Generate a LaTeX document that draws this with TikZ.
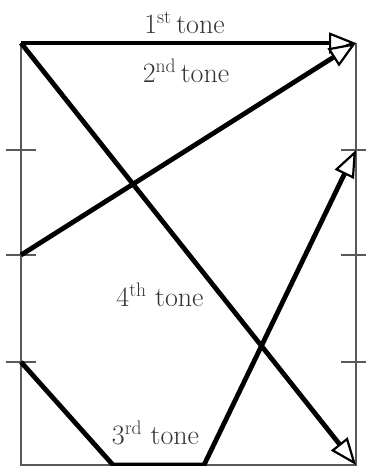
\documentclass[tikz,border=0pt]{standalone}
\usetikzlibrary{arrows.meta}
\begin{document}
\begin{tikzpicture}[x=1pt,y=-1pt,
  frame/.style={draw=black!65, line width=1.8pt},
  tone/.style={draw=black, line width=4.8pt, line join=miter},
  tonearrow/.style={tone, -{Triangle[open, length=27pt, width=21pt, line width=2.2pt, fill=white]}},
  lbl/.style={font=\fontsize{28}{32}\selectfont, text=black!80, inner sep=0pt, anchor=base}]
\useasboundingbox (0,0) rectangle (366,466);
% frame corners
\coordinate (TL) at (21,43);
\coordinate (TR) at (356,43);
\coordinate (BL) at (21,465);
\coordinate (BR) at (356,465);
\draw[frame] (TL) -- (BL) -- (BR) -- (TR);
% ticks
\foreach \y/\n in {150/a,255/b,362/c}{
  \coordinate (L\n1) at (6,\y); \coordinate (L\n2) at (36,\y);
  \coordinate (R\n1) at (341,\y); \coordinate (R\n2) at (370,\y);
  \draw[frame] (L\n1) -- (L\n2);
  \draw[frame] (R\n1) -- (R\n2);
}
\coordinate (M2) at (21,255);
\coordinate (M3) at (21,362);
\coordinate (R3) at (356,150);
\coordinate (B1) at (113,465);
\coordinate (B2) at (204,465);
\coordinate (E4) at (356,465);
% tones
\draw[tonearrow] (TL) -- (TR);
\draw[tonearrow] (M2) -- (TR);
\draw[tonearrow] (TL) -- (E4);
\draw[tonearrow] (M3) -- (B1) -- (B2) -- (R3);
% labels
\node[lbl] (t1) at (184.5,33) {1\textsuperscript{st}\,tone};
\node[lbl] (t2) at (186,82) {2\textsuperscript{nd}\,tone};
\node[lbl] (t4) at (160,306) {4\textsuperscript{th} tone};
\node[lbl] (t3) at (155.5,444) {3\textsuperscript{rd} tone};
\end{tikzpicture}
\end{document}
